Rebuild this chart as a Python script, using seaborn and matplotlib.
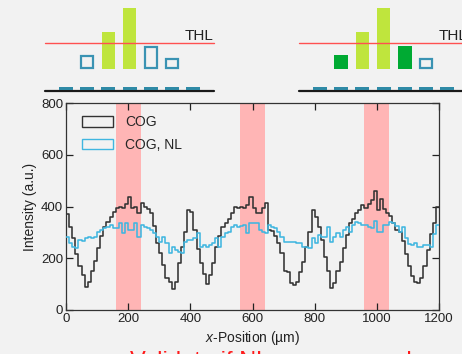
import numpy as np
import pandas as pd
import matplotlib
matplotlib.use("Agg")
import matplotlib.pyplot as plt
from matplotlib.patches import Patch
import seaborn as sns

# ---------------- data ----------------
bin_width = 10  # µm
cog = [370, 320, 280, 215, 170, 135, 90, 110, 150, 190,
       240, 285, 320, 340, 360, 380, 395, 400, 395, 410,
       435, 395, 400, 375, 415, 400, 390, 375, 325, 260,
       220, 175, 125, 110, 80, 110, 180, 245, 300, 385,
       380, 310, 235, 180, 140, 100, 135, 180, 245, 285,
       320, 335, 350, 375, 400, 395, 400, 395, 405, 435,
       395, 375, 375, 395, 415, 310, 305, 285, 260, 220,
       150, 145, 105, 95, 110, 145, 185, 245, 300, 385,
       360, 320, 270, 205, 150, 85, 105, 150, 185, 240,
       290, 335, 350, 375, 385, 405, 395, 410, 425, 460,
       385, 430, 390, 375, 365, 335, 310, 300, 265, 215,
       170, 130, 110, 105, 125, 170, 230, 295, 335, 400]
cog_nl = [283, 258, 245, 238, 271, 265, 277, 283, 278, 283,
          302, 310, 318, 322, 328, 315, 315, 335, 296, 335,
          309, 309, 338, 283, 328, 322, 315, 309, 296, 283,
          264, 283, 258, 219, 245, 232, 225, 219, 264, 271,
          271, 277, 296, 245, 251, 245, 250, 258, 277, 245,
          283, 296, 300, 320, 330, 322, 325, 328, 296, 335,
          335, 335, 309, 300, 296, 328, 320, 315, 300, 283,
          264, 264, 264, 262, 258, 258, 245, 245, 238, 277,
          258, 290, 283, 283, 322, 264, 283, 296, 283, 309,
          322, 300, 328, 340, 335, 330, 328, 320, 315, 345,
          300, 300, 330, 330, 340, 335, 325, 300, 320, 280,
          255, 250, 258, 245, 245, 252, 250, 245, 295, 330]
band_starts = [160, 560, 960]
band_width = 80
series_labels = ["COG", "COG, NL"]
x_ticks = [0, 200, 400, 600, 800, 1000, 1200]
y_ticks = [0, 200, 400, 600, 800]

# schematic pixel charges (top sketches), threshold line
charges = [13.5, 37, 60.5, 22.5, 10.5]
left_kind = ["hollow", "hit", "hit", "hollow", "hollow"]
right_kind = ["nb", "hit", "hit", "nb", "hollow"]

# ---------------- style ----------------
sns.set_theme(style="ticks")
BG = "#f2f2f2"
plt.rcParams["font.family"] = ["Liberation Sans", "DejaVu Sans"]
plt.rcParams["mathtext.fontset"] = "custom"
plt.rcParams["mathtext.it"] = "Liberation Sans:italic"
plt.rcParams["mathtext.rm"] = "Liberation Sans"

fig = plt.figure(figsize=(4.62, 3.54), dpi=100, facecolor=BG)
ax = fig.add_axes([66 / 462, 1 - 310 / 354, 373 / 462, 207 / 354])
ax.set_facecolor(BG)

edges = np.arange(len(cog) + 1) * bin_width
df = pd.DataFrame({
    "x": np.concatenate([edges, edges]),
    "y": np.concatenate([cog + [cog[-1]], cog_nl + [cog_nl[-1]]]),
    "s": [series_labels[0]] * len(edges) + [series_labels[1]] * len(edges),
})
for b in band_starts:
    ax.axvspan(b, b + band_width, color="#ffb5b5", lw=0, zorder=0)
colors = {"COG": "#333333", "COG, NL": "#40b6e0"}
sns.lineplot(data=df, x="x", y="y", hue="s", palette=colors, estimator=None,
             drawstyle="steps-post", lw=1.15, ax=ax, legend=False, zorder=3)

ax.set_xlim(0, 1200)
ax.set_ylim(0, 800)
ax.set_xticks(x_ticks)
ax.set_yticks(y_ticks)
ax.tick_params(direction="in", length=5, width=0.9, top=True, right=True,
               labelsize=9.5, colors="#222222", pad=2)
for sp in ax.spines.values():
    sp.set_color("#333333")
    sp.set_linewidth(0.9)
ax.set_xlabel(r"$\it{x}$-Position (µm)", fontsize=10, color="#222222", labelpad=3)
ax.set_ylabel("Intensity (a.u.)", fontsize=10, color="#222222", labelpad=3)

handles = [Patch(facecolor="none", edgecolor=colors[k], lw=1.0) for k in series_labels]
ax.legend(handles, series_labels, loc="upper left", bbox_to_anchor=(0.043, 0.94),
          frameon=False, fontsize=10, handlelength=2.25, handleheight=0.8,
          handletextpad=0.85, labelspacing=0.6, borderaxespad=0, borderpad=0)

# ---------------- top sketches ----------------
top = fig.add_axes([0, 0, 1, 1], zorder=5)
top.set_xlim(0, 462)
top.set_ylim(354, 0)
top.axis("off")
top.patch.set_alpha(0)
teal = "#3a93b3"
lime = "#bfe53d"
green = "#00aa33"
pitch = 21.2
base_y = 68.5
for offset, kinds in [(0, left_kind), (254, right_kind)]:
    centers = offset + 66 + pitch * np.arange(7)
    top.plot([offset + 45, offset + 214], [90.8, 90.8], color="#1a1a1a", lw=1.6, zorder=1)
    top.bar(centers, -2.8, bottom=90.0, width=14, color="#2f8aa6", lw=0, zorder=2)
    top.plot([offset + 45, offset + 214], [42.7, 42.7], color="#ff5050", lw=1.0, zorder=4)
    top.text(offset + 185, 39.5, "THL", fontsize=11, color="#222222", va="baseline", ha="left")
    for c, h, k in zip(centers[1:6], charges, kinds):
        if k == "hit":
            top.bar(c, -h, bottom=base_y, width=13.5, color=lime, lw=0, zorder=3)
        elif k == "nb":
            top.bar(c, -h, bottom=base_y, width=13.5, color=green, lw=0, zorder=3)
        else:
            top.bar(c, -(h - 1.5), bottom=base_y - 0.8, width=11.5, facecolor=BG,
                    edgecolor=teal, lw=1.6, zorder=3)

# clipped red caption at the bottom (only the top of the letters shows)
fig.text(130 / 462, 1 - 350.5 / 354, "Validate if NL recovers and", color="#ff1a1a",
         fontsize=17, va="top", ha="left")

fig.savefig("out.png", dpi=100, facecolor=BG)
